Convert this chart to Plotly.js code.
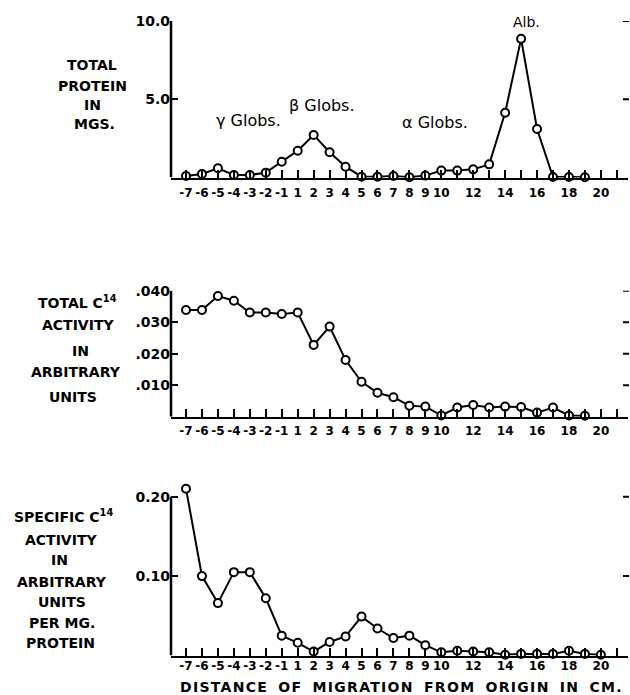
<!DOCTYPE html>
<html>
<head>
<meta charset="utf-8">
<script src="https://cdn.plot.ly/plotly-3.0.1.min.js"></script>
<style>html,body{margin:0;padding:0;background:#fff}</style>
</head>
<body>
<div id="chart" style="width:630px;height:695px"></div>
<script>
// Distance of migration from origin (cm); the origin itself has no strip,
// so the strips are laid out one slot apart: -7 .. -1, then 1 .. 20.
const positions = ['-7','-6','-5','-4','-3','-2','-1','1','2','3','4','5','6','7','8','9','10',
                   '11','12','13','14','15','16','17','18','19','20'];
const labelledPositions = ['-7','-6','-5','-4','-3','-2','-1','1','2','3','4','5','6','7','8','9','10',
                           '12','14','16','18','20'];

// Total protein (mg) per strip, -7 .. 19 cm
const totalProtein = [0.10,0.22,0.59,0.16,0.16,0.31,1.01,1.71,2.72,1.61,0.69,0.05,0.05,
                      0.10,0.02,0.12,0.44,0.44,0.52,0.84,4.14,8.86,3.10,0.03,0.03,0.02];

// Total C14 activity (arbitrary units), -7 .. 19 cm
const totalActivity = [0.0339,0.0339,0.0383,0.0368,0.0331,0.0331,0.0326,0.0331,0.0228,0.0286,
                       0.0180,0.0111,0.0076,0.0062,0.0035,0.0032,0.0004,0.0029,0.0037,0.0029,
                       0.0032,0.0031,0.0013,0.0029,0.0004,0.0003];

// Specific C14 activity (arbitrary units per mg protein), -7 .. 20 cm
const specificActivity = [0.210,0.100,0.066,0.105,0.105,0.072,0.025,0.016,0.005,0.017,0.024,
                          0.049,0.034,0.022,0.025,0.013,0.004,0.006,0.005,0.004,0.001,0.002,
                          0.002,0.002,0.006,0.002,0.001];

const proteinTicks = [5, 10], proteinTickText = ['5.0', '10.0'];
const activityTicks = [0.01, 0.02, 0.03, 0.04], activityTickText = ['.010', '.020', '.030', '.040'];
const specificTicks = [0.1, 0.2], specificTickText = ['0.10', '0.20'];

const FONT = 'DejaVu Sans, Liberation Sans, sans-serif';
const W = 630, H = 695;
const px = x => x / W;
const py = y => 1 - y / H;

// slot number of each strip along the distance axis
const slot = p => positions.indexOf(p);

function series(ys, xa, ya) {
  return {
    x: positions.slice(0, ys.length).map(slot), y: ys, xaxis: xa, yaxis: ya,
    type: 'scatter', mode: 'lines+markers', cliponaxis: false,
    line: {color: '#000', width: 2},
    marker: {symbol: 'circle', size: 8, color: '#fff', line: {color: '#000', width: 2}},
    hoverinfo: 'skip', showlegend: false
  };
}

const traces = [
  series(totalProtein, 'x', 'y'),
  series(totalActivity, 'x2', 'y2'),
  series(specificActivity, 'x3', 'y3')
];

function xAxis(anchor, standoff) {
  return {
    anchor: anchor, domain: [px(171), px(628)],
    type: 'linear', range: [-0.94, 27.7],
    tickmode: 'array', tickvals: labelledPositions.map(slot), ticktext: labelledPositions,
    ticks: 'inside', ticklen: 8, tickwidth: 2, tickcolor: '#000',
    minor: {tickmode: 'linear', tick0: 0, dtick: 1, ticks: 'inside', ticklen: 8,
            tickwidth: 2, tickcolor: '#000', showgrid: false},
    ticklabelstandoff: standoff,
    tickfont: {family: FONT, size: 12, color: '#000', weight: 'bold'},
    showline: true, linewidth: 2.5, linecolor: '#000',
    showgrid: false, zeroline: false, fixedrange: true
  };
}
// The vertical scale line runs from zero up to the top labelled value.
function yAxis(anchor, top, bottom, range, vals, text) {
  return {
    anchor: anchor, domain: [py(bottom), py(top)], range: range,
    tickmode: 'array', tickvals: vals, ticktext: text,
    ticks: 'inside', ticklen: 7, tickwidth: 2, tickcolor: '#000',
    tickfont: {family: FONT, size: 14, color: '#000', weight: 'bold'},
    showline: false, showgrid: false, zeroline: false, fixedrange: true
  };
}

const shapes = [];
[['x', 'y', proteinTicks], ['x2', 'y2', activityTicks], ['x3', 'y3', specificTicks]].forEach(([xa, ya, vals]) => {
  // scale line
  shapes.push({
    type: 'line', xref: xa + ' domain', yref: ya, x0: 0, x1: 0, y0: 0, y1: vals[vals.length - 1],
    line: {color: '#000', width: 2.5}
  });
  // short marks at the right-hand edge, level with each scale value
  vals.forEach(v => shapes.push({
    type: 'line', xref: 'paper', yref: ya, x0: px(623), x1: px(629), y0: v, y1: v,
    line: {color: '#000', width: 2}
  }));
});

function label(text, x, y, size, bold) {
  return {
    xref: 'paper', yref: 'paper', x: px(x), y: py(y),
    xanchor: 'center', yanchor: 'middle', showarrow: false,
    text: bold ? '<b>' + text + '</b>' : text,
    font: {family: FONT, size: size, color: '#000'}
  };
}

const annotations = [
  label('TOTAL', 92, 65, 14, true),
  label('PROTEIN', 92, 86, 14, true),
  label('IN', 92, 105, 14, true),
  label('MGS.', 94, 124, 14, true),

  label('TOTAL C<sup>14</sup>', 77, 302, 14, true),
  label('ACTIVITY', 78, 325, 14, true),
  label('IN', 80, 351, 14, true),
  label('ARBITRARY', 76, 372, 14, true),
  label('UNITS', 73, 397, 14, true),

  label('SPECIFIC C<sup>14</sup>', 63, 516, 14, true),
  label('ACTIVITY', 61, 540, 14, true),
  label('IN', 59, 560, 14, true),
  label('ARBITRARY', 62, 582, 14, true),
  label('UNITS', 62, 602, 14, true),
  label('PER MG.', 62, 623, 14, true),
  label('PROTEIN', 60, 643, 14, true),

  label('γ Globs.', 248, 120, 16, false),
  label('β Globs.', 322, 106, 16, false),
  label('α Globs.', 435, 123, 16, false),
  label('Alb.', 526, 22, 14, false),

  label('DISTANCE OF MIGRATION FROM ORIGIN IN CM.', 402, 687, 14, true)
];

// the lower panel's scale is stretched a little above 0.20 so the first strip stays in range
const specTop = 0.215;
const specBottomPx = 655.5, specPerUnit = (655.5 - 496.7) / 0.2;

const layout = {
  width: W, height: H,
  margin: {l: 0, r: 0, t: 0, b: 0},
  paper_bgcolor: '#fff', plot_bgcolor: '#fff',
  xaxis: xAxis('y', 3), xaxis2: xAxis('y2', 1), xaxis3: xAxis('y3', -2),
  yaxis: yAxis('x', 21, 177.5, [0, 10], proteinTicks, proteinTickText),
  yaxis2: yAxis('x2', 290.7, 416.7, [0, 0.04], activityTicks, activityTickText),
  yaxis3: yAxis('x3', specBottomPx - specTop * specPerUnit, specBottomPx, [0, specTop],
                specificTicks, specificTickText),
  shapes: shapes,
  annotations: annotations
};

Plotly.newPlot('chart', traces, layout, {staticPlot: true}).then(() => {
  // spread out the lettering of the distance caption
  document.querySelectorAll('.annotation-text').forEach(t => {
    if (t.textContent.indexOf('DISTANCE') === 0) {
      t.style.letterSpacing = '1.3px';
      t.style.wordSpacing = '4px';
    }
  });
});
</script>
</body>
</html>
